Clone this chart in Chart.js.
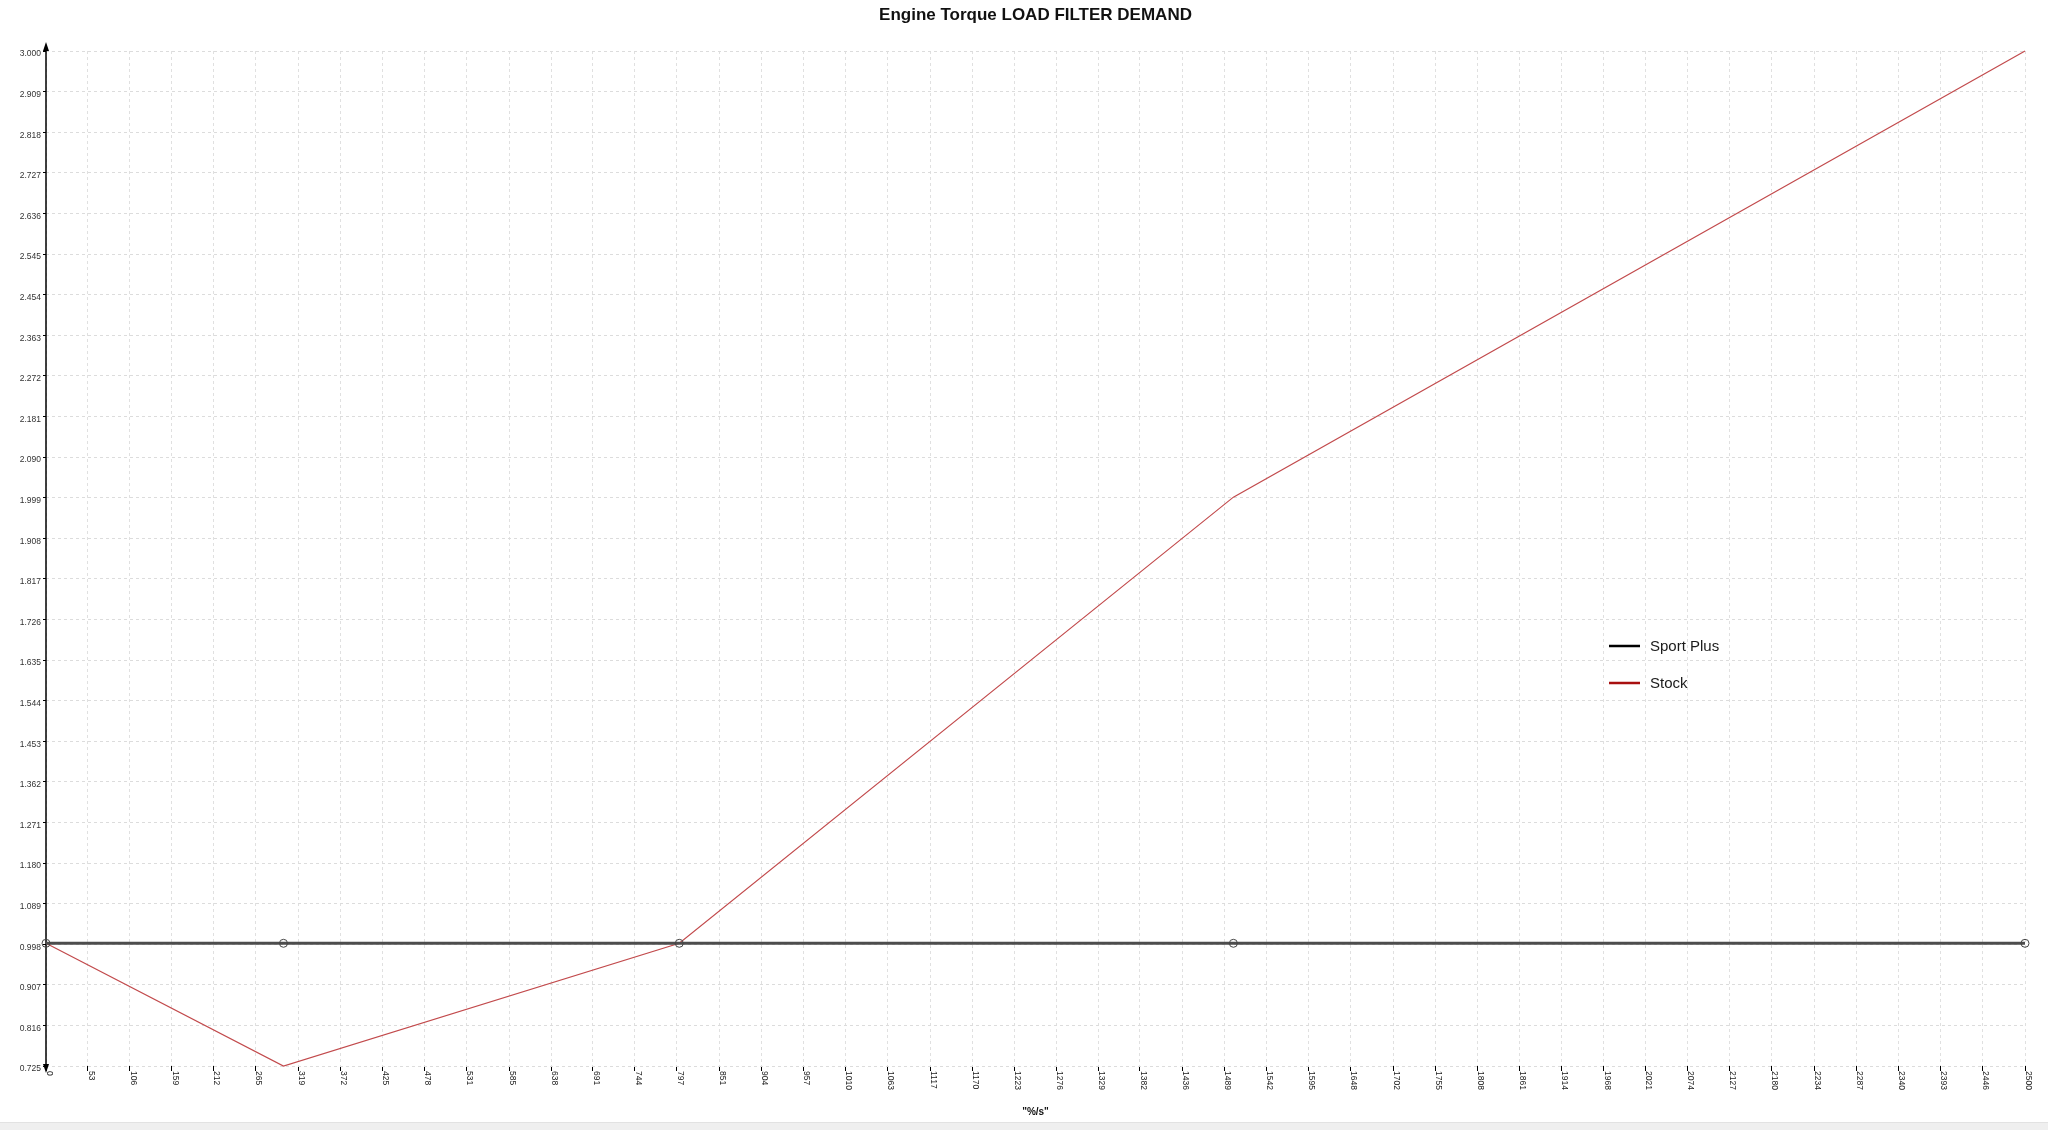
<!DOCTYPE html>
<html>
<head>
<meta charset="utf-8">
<script src="https://cdn.jsdelivr.net/npm/chart.js@4"></script>
<style>
  html, body { margin: 0; padding: 0; background: #fff; }
  #wrap { position: relative; width: 2048px; height: 1130px; }
  #strip { position: absolute; left: 0; bottom: 0; width: 2048px; height: 7px; background: #efefef; border-top: 1px solid #e2e2e2; }
</style>
</head>
<body>
<div id="wrap">
  <canvas id="myChart"></canvas>
  <div id="strip"></div>
</div>
<script>
// data
var xValues = [0, 300, 800, 1500, 2500]
var sportPlus = [1.0, 1.0, 1.0, 1.0, 1.0]
var stock = [1.0, 0.725, 1.0, 2.0, 3.0]

var xTickLabels = ['0','53','106','159','212','265','319','372','425','478','531','585','638','691','744','797',
  '851','904','957','1010','1063','1117','1170','1223','1276','1329','1382','1436','1489','1542','1595','1648',
  '1702','1755','1808','1861','1914','1968','2021','2074','2127','2180','2234','2287','2340','2393','2446','2500']
var yTickLabels = ['0.725','0.816','0.907','0.998','1.089','1.180','1.271','1.362','1.453','1.544','1.635','1.726',
  '1.817','1.908','1.999','2.090','2.181','2.272','2.363','2.454','2.545','2.636','2.727','2.818','2.909','3.000']

var legendColors = ['#000000', '#a80f0f']

function toPoints(ys) {
  return xValues.map(function (x, i) { return {x: x, y: ys[i]} })
}

// y axis line with arrows, rotated x labels and the floating legend
var extras = {
  id: 'extras',
  beforeDatasetsDraw: function (chart) {
    var c = chart.ctx
    var area = chart.chartArea
    var ax = area.left
    c.save()
    c.strokeStyle = '#000'
    c.lineWidth = 1.5
    c.beginPath()
    c.moveTo(ax, area.top - 2)
    c.lineTo(ax, area.bottom + 2)
    c.stroke()
    c.fillStyle = '#000'
    c.beginPath()
    c.moveTo(ax, area.top - 9)
    c.lineTo(ax - 3, area.top)
    c.lineTo(ax + 3, area.top)
    c.closePath()
    c.fill()
    c.beginPath()
    c.moveTo(ax, area.bottom + 7)
    c.lineTo(ax - 3, area.bottom - 2)
    c.lineTo(ax + 3, area.bottom - 2)
    c.closePath()
    c.fill()
    c.restore()
  },
  afterDraw: function (chart) {
    var c = chart.ctx
    var xs = chart.scales.x
    var area = chart.chartArea
    c.save()

    // x tick labels, rotated clockwise
    c.font = '8.5px "Liberation Sans", Arial, sans-serif'
    c.fillStyle = '#222'
    c.textAlign = 'left'
    c.textBaseline = 'middle'
    xTickLabels.forEach(function (lab) {
      var px = xs.getPixelForValue(parseFloat(lab))
      c.save()
      c.translate(px + 3, area.bottom + 5)
      c.rotate(Math.PI / 2)
      c.fillText(lab, 0, 0)
      c.restore()
    })

    // legend
    var lx = 1609, ly = 646
    c.font = '15px "Liberation Sans", Arial, sans-serif'
    c.textBaseline = 'middle'
    chart.data.datasets.forEach(function (ds, i) {
      var y = ly + i * 37
      c.strokeStyle = legendColors[i]
      c.lineWidth = 2.5
      c.beginPath()
      c.moveTo(lx, y)
      c.lineTo(lx + 31, y)
      c.stroke()
      c.fillStyle = '#1a1a1a'
      c.fillText(ds.label, lx + 41, y + 1)
    })
    c.restore()
  }
}

var ctx = document.getElementById('myChart')

var chart = new Chart(ctx, {
  type: 'line',
  data: {
    datasets: [{
      label: 'Sport Plus',
      data: toPoints(sportPlus),
      borderColor: '#4d4d4d',
      borderWidth: 3,
      pointRadius: 4,
      pointBorderWidth: 1,
      pointBorderColor: '#444',
      pointBackgroundColor: 'rgba(0,0,0,0)',
      tension: 0,
      clip: false
    }, {
      label: 'Stock',
      data: toPoints(stock),
      borderColor: '#c24a4c',
      borderWidth: 1.2,
      pointRadius: 0,
      tension: 0,
      clip: false
    }]
  },
  options: {
    responsive: true,
    maintainAspectRatio: false,
    animation: false,
    layout: { padding: { left: 0, right: 23, top: 0, bottom: 0 } },
    plugins: {
      legend: { display: false },
      tooltip: { enabled: false },
      title: {
        display: true,
        fullSize: false,
        text: 'Engine Torque LOAD FILTER DEMAND',
        color: '#111',
        font: { family: '"Liberation Sans", Arial, sans-serif', size: 17, weight: 'bold' },
        padding: { top: 5, bottom: 25.6 }
      }
    },
    scales: {
      x: {
        type: 'linear',
        min: 0,
        max: 2500,
        afterBuildTicks: function (scale) {
          scale.ticks = xTickLabels.map(function (l) { return {value: parseFloat(l)} })
        },
        afterFit: function (scale) { scale.height = 64 },
        ticks: { display: false },
        grid: {
          color: '#e0e0e0',
          tickLength: 5,
          tickColor: '#000',
          tickBorderDash: []
        },
        border: { display: false, dash: [3, 3] },
        title: {
          display: true,
          text: '"%/s"',
          color: '#111',
          font: { family: '"Liberation Sans", Arial, sans-serif', size: 10, weight: 'bold' },
          padding: { top: 0, bottom: 12 }
        }
      },
      y: {
        type: 'linear',
        min: 0.725,
        max: 3.0,
        afterBuildTicks: function (scale) {
          scale.ticks = yTickLabels.map(function (l) { return {value: parseFloat(l)} })
        },
        afterFit: function (scale) { scale.width = 46 },
        ticks: {
          color: '#333',
          padding: 2,
          labelOffset: 3,
          font: { family: '"Liberation Sans", Arial, sans-serif', size: 8.5 },
          callback: function (v, i) { return yTickLabels[i] }
        },
        grid: {
          color: '#dcdcdc',
          tickLength: 3,
          tickColor: '#000',
          tickBorderDash: []
        },
        border: { display: false, dash: [3, 3] }
      }
    }
  },
  plugins: [extras]
});
</script>
</body>
</html>
